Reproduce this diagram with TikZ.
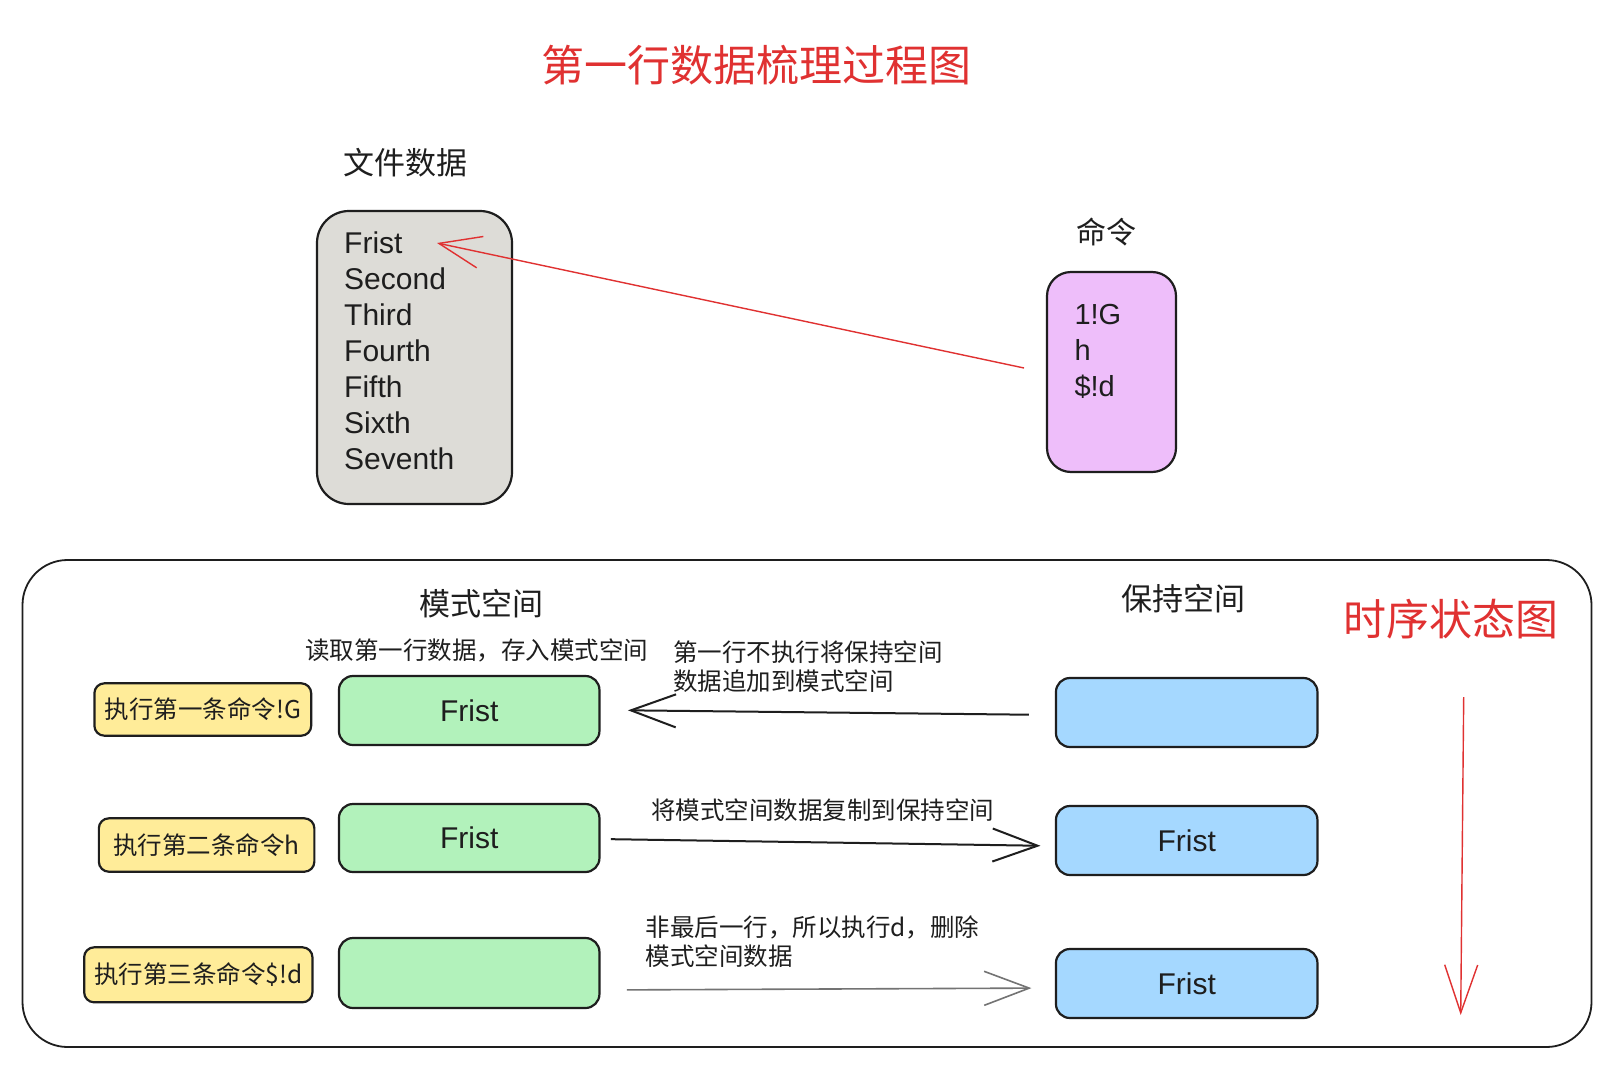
\documentclass[tikz,border=0pt]{standalone}
\usepackage{fontspec}
\setmainfont{Liberation Sans}
\newfontfamily\cjk{Noto Sans CJK SC}
\usetikzlibrary{arrows.meta,calc}
\definecolor{ink}{HTML}{1E1E1E}
\definecolor{redink}{HTML}{E03131}
\definecolor{grayfill}{HTML}{DDDCD7}
\definecolor{purplefill}{HTML}{EEBEFA}
\definecolor{greenfill}{HTML}{B2F2BB}
\definecolor{bluefill}{HTML}{A5D8FF}
\definecolor{yellowfill}{HTML}{FFEC99}
\tikzset{
  box/.style={draw=ink, line width=2.2pt, inner sep=0pt, outer sep=0pt, text=ink},
  greenbox/.style={box, fill=greenfill, rounded corners=14pt, minimum width=260.5pt,
     font=\fontsize{30}{36}\selectfont},
  bluebox/.style={box, fill=bluefill, rounded corners=14pt, minimum width=261.5pt, minimum height=69pt,
     font=\fontsize{30}{36}\selectfont},
  yellowbox/.style={box, fill=yellowfill, rounded corners=10pt,
     font=\cjk\fontsize{24.5}{29}\selectfont},
  listtxt/.style={inner sep=0pt, text=ink, anchor=base west, font=\fontsize{30}{36}\selectfont},
  cjklbl/.style={inner sep=0pt, text=ink, font=\cjk\fontsize{31}{37}\selectfont},
  smalllbl/.style={inner sep=0pt, text=ink, align=left, font=\cjk\fontsize{24.5}{29}\selectfont},
  redtitle/.style={inner sep=0pt, text=redink, font=\cjk\fontsize{43}{50}\selectfont},
  blackarrow/.style={draw=ink, line width=2pt, -{Straight Barb[length=45pt,width=33pt]}},
  grayarrow/.style={draw=black!55, line width=1.6pt, -{Straight Barb[length=45pt,width=34pt]}},
  redarrow/.style={draw=redink, line width=1.4pt, -{Straight Barb[length=42pt,width=32pt]}},
}
\begin{document}
\begin{tikzpicture}[x=1pt,y=-1pt]
\useasboundingbox (0,0) rectangle (1607,1087);
\fill[white] (0,0) rectangle (1607,1087);

% title
\node[redtitle] (title) at (756,65) {第一行数据梳理过程图};

% file data
\node[cjklbl] (filelbl) at (405.5,163) {文件数据};
\node[box, fill=grayfill, rounded corners=32pt, minimum width=195pt, minimum height=293pt] (filebox) at (414.5,357.5) {};
\node[listtxt] (l1) at (344,253.3) {Frist};
\node[listtxt] (l2) at (344,289.3) {Second};
\node[listtxt] (l3) at (344,325.3) {Third};
\node[listtxt] (l4) at (344,361.3) {Fourth};
\node[listtxt] (l5) at (344,397.3) {Fifth};
\node[listtxt] (l6) at (344,433.3) {Sixth};
\node[listtxt] (l7) at (344,469.3) {Seventh};

% commands
\node[cjklbl, font=\cjk\fontsize{30}{36}\selectfont] (cmdlbl) at (1106,231.6) {命令};
\node[box, fill=purplefill, rounded corners=24pt, minimum width=129pt, minimum height=200pt] (cmdbox) at (1111.5,372) {};
\node[listtxt, font=\fontsize{29}{36}\selectfont] (c1) at (1074.3,324) {1!G};
\node[listtxt, font=\fontsize{29}{36}\selectfont] (c2) at (1074.3,360.5) {h};
\node[listtxt, font=\fontsize{29}{36}\selectfont] (c3) at (1074.3,396.7) {\$!d};

% red arrow from commands to first line
\coordinate (ctail) at (1024,368);
\coordinate (ftip) at (437,243);
\draw[redarrow] (ctail) -- (ftip);

% timing frame
\node[draw=ink, line width=1.8pt, rounded corners=45pt, minimum width=1569pt, minimum height=487pt, inner sep=0pt] (frame) at (807,803.5) {};

\node[cjklbl] (patlbl) at (481.5,603.3) {模式空间};
\node[cjklbl] (holdlbl) at (1183.5,599) {保持空间};
\node[redtitle] (timelbl) at (1451,619) {时序状态图};

% yellow command boxes
\node[yellowbox, minimum width=216.8pt, minimum height=52.4pt] (y1) at (202.8,709.5) {执行第一条命令!G};
\node[yellowbox, minimum width=215.5pt, minimum height=53.4pt] (y2) at (206.6,845) {执行第二条命令h};
\node[yellowbox, minimum width=228.3pt, minimum height=55pt] (y3) at (198.3,974.8) {执行第三条命令\$!d};

% pattern space boxes
\node[greenbox, minimum height=69pt] (g1) at (469.2,710.5) {Frist};
\node[greenbox, minimum height=68pt] (g2) at (469.2,838) {Frist};
\node[greenbox, minimum height=70pt] (g3) at (469.2,973) {};

% hold space boxes
\node[bluebox] (b1) at (1186.7,712.5) {};
\node[bluebox] (b2) at (1186.7,840.5) {Frist};
\node[bluebox] (b3) at (1186.7,983.5) {Frist};

% labels
\node[smalllbl] (t1) at (476.5,650) {读取第一行数据，存入模式空间};
\node[smalllbl, anchor=west] (t2) at (673,666.5) {第一行不执行将保持空间\\数据追加到模式空间};
\node[smalllbl] (t3) at (822.5,810) {将模式空间数据复制到保持空间};
\node[smalllbl, anchor=west] (t4) at (645.4,941.5) {非最后一行，所以执行d，删除\\模式空间数据};

% arrows between spaces
\draw[blackarrow, shorten <=27pt, shorten >=28.5pt] ([yshift=-2.5pt]b1.west) -- ([yshift=0.5pt]g1.east);
\draw[blackarrow, shorten <=11.5pt, shorten >=15.5pt] ([yshift=-1pt]g2.east) -- ([yshift=-5.5pt]b2.west);
\draw[grayarrow, shorten <=27.5pt, shorten >=24.5pt] ([yshift=-17pt]g3.east) -- ([yshift=-4.5pt]b3.west);

% red time arrow
\coordinate (ttop) at (1463.7,697);
\coordinate (tbot) at (1460.7,1015);
\draw[redarrow, -{Straight Barb[length=48pt,width=33pt]}] (ttop) -- (tbot);
\end{tikzpicture}
\end{document}
